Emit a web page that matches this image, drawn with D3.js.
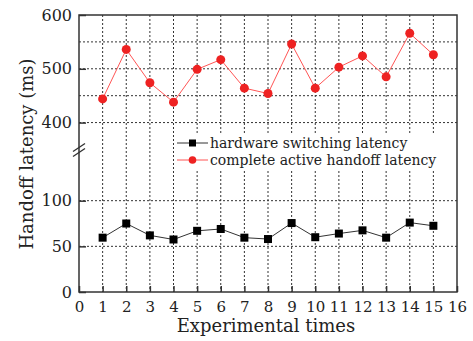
<!DOCTYPE html>
<html>
<head>
<meta charset="utf-8">
<script src="https://cdn.jsdelivr.net/npm/d3@7"></script>
<style>
  body { margin: 0; background: #fff; }
  text { font-family: "DejaVu Serif", "Liberation Serif", serif; fill: #222; }
</style>
</head>
<body>
<div id="chart"></div>
<script>
// experiment index
const runs = [1,2,3,4,5,6,7,8,9,10,11,12,13,14,15];
// hardware switching latency (ms)
const hardware = [59.5,75,62,57.5,67,69,59.5,58,75.5,60,64,67.5,59.5,76,72.5];
// complete active handoff latency (ms)
const complete = [444,536,474,438,499,517,464,454,546,464,503,524,485,566,526];

const xTicks = d3.range(0, 17);
const lowTicks = [0, 50, 100];
const highTicks = [400, 500, 600];
const lowGrid = [50, 100];
const highGrid = [400, 450, 500, 550];

const W = 473, H = 341;
const mLeft = 79, mRight = 457, mTop = 15, mBottom = 292, brk = 150;

let svg = d3.select("#chart").append("svg")
  .attr("width", W).attr("height", H);

let x = d3.scaleLinear().domain([0, 16]).range([mLeft, mRight]);
let yLow = d3.scaleLinear().domain([0, 155.5]).range([mBottom, brk]);
let yHigh = d3.scaleLinear().domain([349, 600]).range([brk, mTop]);

// grid
let grid = svg.append("g")
  .attr("stroke", "#333").attr("stroke-width", 1)
  .attr("stroke-dasharray", "2,2");
grid.selectAll(".vg").data(runs).enter().append("line")
  .attr("x1", d => x(d)).attr("x2", d => x(d))
  .attr("y1", mTop).attr("y2", mBottom);
grid.selectAll(".hl").data(lowGrid).enter().append("line")
  .attr("x1", mLeft).attr("x2", mRight)
  .attr("y1", d => yLow(d)).attr("y2", d => yLow(d));
grid.selectAll(".hh").data(highGrid).enter().append("line")
  .attr("x1", mLeft).attr("x2", mRight)
  .attr("y1", d => yHigh(d)).attr("y2", d => yHigh(d));

// frame
svg.append("rect")
  .attr("x", mLeft).attr("y", mTop)
  .attr("width", mRight - mLeft).attr("height", mBottom - mTop)
  .attr("fill", "none").attr("stroke", "#333").attr("stroke-width", 1.5);

// axes (ticks inward)
let xAxis = svg.append("g").attr("transform", `translate(0,${mBottom})`)
  .call(d3.axisBottom(x).tickValues(xTicks).tickSizeInner(-6).tickSizeOuter(0).tickPadding(9));
let yAxisLow = svg.append("g").attr("transform", `translate(${mLeft},0)`)
  .call(d3.axisLeft(yLow).tickValues(lowTicks).tickSizeInner(-7).tickSizeOuter(0).tickPadding(7));
let yAxisHigh = svg.append("g").attr("transform", `translate(${mLeft},0)`)
  .call(d3.axisLeft(yHigh).tickValues(highTicks).tickSizeInner(-7).tickSizeOuter(0).tickPadding(7));

[xAxis, yAxisLow, yAxisHigh].forEach(a => {
  a.select(".domain").remove();
  a.selectAll(".tick line").attr("stroke", "#333").attr("stroke-width", 1.5);
  a.selectAll(".tick text").attr("font-size", 16).attr("fill", "#222")
    .style("font-family", '"DejaVu Serif", serif');
});
xAxis.selectAll(".tick text").attr("font-size", 15);

// axis break marks
let brkG = svg.append("g").attr("stroke", "#333").attr("stroke-width", 1.3);
[-2.5, 2.5].forEach(o => {
  brkG.append("line")
    .attr("x1", mLeft - 6).attr("y1", brk + o + 4)
    .attr("x2", mLeft + 6).attr("y2", brk + o - 4);
});

// series
let line = d3.line();
svg.append("path")
  .attr("d", line(runs.map((r, i) => [x(r), yLow(hardware[i])])))
  .attr("fill", "none").attr("stroke", "#333").attr("stroke-width", 1);
svg.append("path")
  .attr("d", line(runs.map((r, i) => [x(r), yHigh(complete[i])])))
  .attr("fill", "none").attr("stroke", "#f55").attr("stroke-width", 1);

svg.selectAll(".sq").data(hardware).enter().append("rect")
  .attr("x", (d, i) => x(runs[i]) - 4).attr("y", d => yLow(d) - 4)
  .attr("width", 8).attr("height", 8).attr("fill", "#000");
svg.selectAll(".dot").data(complete).enter().append("circle")
  .attr("cx", (d, i) => x(runs[i])).attr("cy", d => yHigh(d))
  .attr("r", 4.5).attr("fill", "#ee2222");

// legend
let lg = svg.append("g").attr("transform", "translate(176,133)");
lg.append("rect").attr("x", 0).attr("y", 0).attr("width", 262).attr("height", 37).attr("fill", "#fff");
lg.append("line").attr("x1", 1).attr("x2", 32).attr("y1", 10).attr("y2", 10).attr("stroke", "#333");
lg.append("rect").attr("x", 13).attr("y", 6.5).attr("width", 7).attr("height", 7).attr("fill", "#000");
lg.append("text").attr("x", 34).attr("y", 14.5).attr("font-size", 14).text("hardware switching latency");
lg.append("line").attr("x1", 1).attr("x2", 32).attr("y1", 27).attr("y2", 27).attr("stroke", "#f55");
lg.append("circle").attr("cx", 16.5).attr("cy", 27).attr("r", 3.8).attr("fill", "#ee2222");
lg.append("text").attr("x", 34).attr("y", 31.5).attr("font-size", 14).text("complete active handoff latency");

// titles
svg.append("text")
  .attr("x", 266).attr("y", 332).attr("text-anchor", "middle")
  .attr("font-size", 18).text("Experimental times");
svg.append("text")
  .attr("transform", "translate(33,154) rotate(-90)")
  .attr("text-anchor", "middle").attr("font-size", 18)
  .text("Handoff latency (ms)");
</script>
</body>
</html>
